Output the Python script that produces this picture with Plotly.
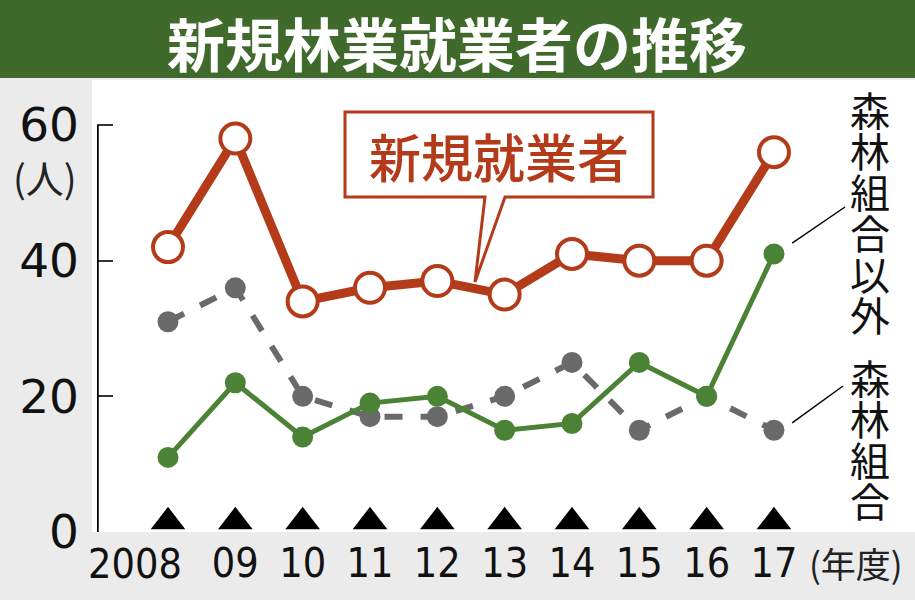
import plotly.graph_objects as go

# ---- data ----
years = [2008, 2009, 2010, 2011, 2012, 2013, 2014, 2015, 2016, 2017]
year_labels = ["2008", "09", "10", "11", "12", "13", "14", "15", "16", "17"]
new_workers = [42, 58, 34, 36, 37, 35, 41, 40, 40, 56]        # 新規就業者
forest_coop = [31, 36, 20, 17, 17, 20, 25, 15, 20, 15]        # 森林組合
non_coop = [11, 22, 14, 19, 20, 15, 16, 25, 20, 41]           # 森林組合以外
y_ticks = [0, 20, 40, 60]
TRI_Y = 1.5

RED = "#b33b19"
GREEN = "#4c8236"
GRAY = "#6a6a6a"
TITLE_GREEN = "#3f6a2b"
BG = "#ebebeb"
JP = "Noto Sans CJK JP"
NUM = "DejaVu Sans Condensed"

W, H = 915, 600
L, R, T, B = 97, 0, 83, 68
PW, PH = W - L - R, H - T - B
PX_X = 67.33
PX_Y = 6.783
xmin = years[0] - (168 - L) / PX_X
xmax = xmin + PW / PX_X
ymax = PH / PX_Y


def px2x(px):
    return xmin + (px - L) / PX_X


def py2y(py):
    return (H - B - py) / PX_Y


def ppx(px):
    return (px - L) / PW


def ppy(py):
    return (H - B - py) / PH


fig = go.Figure()

fig.add_trace(go.Scatter(
    x=years, y=[TRI_Y] * len(years), mode="markers",
    marker=dict(symbol="triangle-up", size=30, color="black"),
    cliponaxis=False, hoverinfo="skip", showlegend=False))

fig.add_trace(go.Scatter(
    x=years, y=forest_coop, mode="lines+markers", name="森林組合",
    line=dict(color=GRAY, width=6, dash="dash"),
    marker=dict(size=21, color=GRAY), cliponaxis=False, showlegend=False))

fig.add_trace(go.Scatter(
    x=years, y=non_coop, mode="lines+markers", name="森林組合以外",
    line=dict(color=GREEN, width=5),
    marker=dict(size=21, color=GREEN), cliponaxis=False, showlegend=False))

fig.add_trace(go.Scatter(
    x=years, y=new_workers, mode="lines+markers", name="新規就業者",
    line=dict(color=RED, width=9),
    marker=dict(size=30, color="white", line=dict(color=RED, width=4)),
    cliponaxis=False, showlegend=False))

shapes = []
# white plot background extending slightly left
shapes.append(dict(type="rect", xref="paper", yref="paper",
                   x0=ppx(92), x1=1, y0=0, y1=ppy(80),
                   fillcolor="white", line=dict(width=0), layer="below"))
# title bar
shapes.append(dict(type="rect", xref="paper", yref="paper",
                   x0=ppx(0), x1=1, y0=ppy(78), y1=ppy(0),
                   fillcolor=TITLE_GREEN, line=dict(width=0), layer="below"))
# y axis line from 0 to 60
shapes.append(dict(type="line", xref="x", yref="y",
                   x0=xmin, x1=xmin, y0=0, y1=y_ticks[-1],
                   line=dict(color="black", width=3.5), layer="above"))

# callout box with pointer
bl, br, bt, bb = px2x(345), px2x(653), py2y(112), py2y(197)
p1, p2, tipx, tipy = px2x(485), px2x(505), px2x(475), py2y(282)
path = (f"M {bl},{bt} L {br},{bt} L {br},{bb} L {p2},{bb} L {tipx},{tipy} "
        f"L {p1},{bb} L {bl},{bb} Z")
shapes.append(dict(type="path", xref="x", yref="y", path=path,
                   fillcolor="white", line=dict(color=RED, width=3), layer="above"))

# leader lines
shapes.append(dict(type="line", xref="x", yref="y",
                   x0=years[-1] + 0.27, y0=non_coop[-1] + 1.6,
                   x1=px2x(845), y1=py2y(207),
                   line=dict(color="black", width=1.5)))
shapes.append(dict(type="line", xref="x", yref="y",
                   x0=years[-1] + 0.27, y0=forest_coop[-1] + 1.1,
                   x1=px2x(843), y1=py2y(386),
                   line=dict(color="black", width=1.5)))

annotations = []


def ann(text, x, y, size, color, xref="paper", yref="paper", weight=None,
        family=JP, xanchor="center"):
    f = dict(family=family, size=size, color=color)
    if weight:
        f["weight"] = weight
    annotations.append(dict(text=text, xref=xref, yref=yref, x=x, y=y,
                            xanchor=xanchor, yanchor="middle",
                            showarrow=False, font=f))


ann("新規林業就業者の推移", ppx(457), ppy(42), 58, "white", weight=700)
ann("新規就業者", (bl + br) / 2, py2y(155), 52, RED, xref="x", yref="y", weight=500)
ann("(人)", ppx(45), ppy(176), 38, "#222")
ann("(年度)", ppx(856), ppy(562), 35, "#222")
# first year label is set off to the left of its tick, as in the original
ann(year_labels[0], ppx(184), ppy(564), 41, "#111", family=NUM, xanchor="right")

label1 = "森林組合以外"
label2 = "森林組合"
for i, ch in enumerate(label1):
    ann(ch, ppx(870), ppy(109 + i * 41), 40, "#111")
for i, ch in enumerate(label2):
    ann(ch, ppx(870), ppy(377 + i * 41), 40, "#111")

tick_text = [""] + year_labels[1:]

fig.update_layout(
    width=W, height=H,
    margin=dict(l=L, r=R, t=T, b=B, pad=0, autoexpand=False),
    paper_bgcolor=BG, plot_bgcolor="rgba(0,0,0,0)",
    shapes=shapes, annotations=annotations,
    xaxis=dict(range=[xmin, xmax], showgrid=False, zeroline=False, showline=False,
               tickvals=years, ticktext=tick_text, ticks="", tickangle=0,
               automargin=False,
               tickfont=dict(family=NUM, size=41, color="#111"),
               ticklabelstandoff=3, fixedrange=True),
    yaxis=dict(range=[0, ymax], showgrid=False, zeroline=False, showline=False,
               tickvals=y_ticks, ticks="inside", ticklen=16, tickwidth=2,
               tickcolor="#333", automargin=False,
               tickfont=dict(family="DejaVu Sans", size=47, color="#111"),
               ticklabelstandoff=17, fixedrange=True),
)

fig.write_html("out.html", config={"displayModeBar": False},
               post_script="document.body.style.margin='0';"
                           "document.body.style.overflow='hidden';")
